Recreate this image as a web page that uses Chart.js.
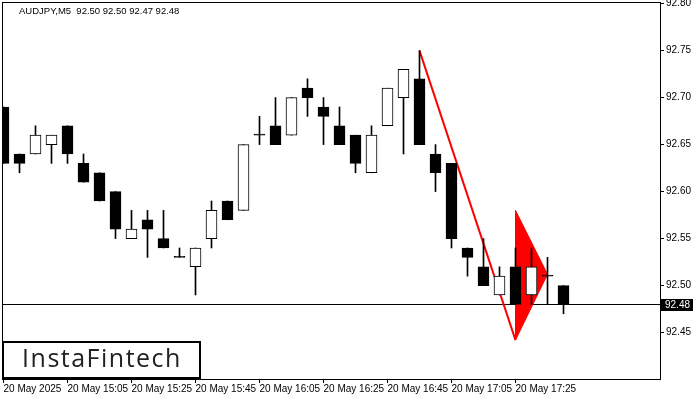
<!DOCTYPE html>
<html>
<head>
<meta charset="utf-8">
<script src="https://cdn.jsdelivr.net/npm/chart.js@4.4.1/dist/chart.umd.min.js"></script>
<style>
  html, body { margin: 0; padding: 0; background: #fff; }
  #wrap { width: 700px; height: 400px; }
</style>
</head>
<body>
<div id="wrap"><canvas id="myChart" width="700" height="400"></canvas></div>
<script>
// AUDJPY M5 candles, 14:45 .. 17:40
var OPEN  = [92.69, 92.64, 92.64, 92.65, 92.67, 92.63, 92.62, 92.60, 92.55, 92.57, 92.55, 92.53,
             92.52, 92.55, 92.59, 92.58, 92.66, 92.67, 92.66, 92.71, 92.69, 92.67, 92.66, 92.62,
             92.67, 92.70, 92.72, 92.64, 92.63, 92.54, 92.52, 92.49, 92.52, 92.49, 92.51, 92.50];
var HIGH  = [92.69, 92.64, 92.67, 92.66, 92.67, 92.64, 92.62, 92.60, 92.58, 92.58, 92.58, 92.54,
             92.54, 92.59, 92.59, 92.65, 92.68, 92.70, 92.70, 92.72, 92.70, 92.69, 92.66, 92.67,
             92.71, 92.73, 92.75, 92.65, 92.63, 92.54, 92.55, 92.52, 92.54, 92.54, 92.53, 92.50];
var LOW   = [92.63, 92.62, 92.64, 92.63, 92.63, 92.61, 92.59, 92.55, 92.55, 92.53, 92.54, 92.53,
             92.49, 92.54, 92.57, 92.58, 92.65, 92.65, 92.66, 92.68, 92.65, 92.65, 92.62, 92.62,
             92.67, 92.64, 92.65, 92.60, 92.54, 92.51, 92.50, 92.49, 92.48, 92.48, 92.48, 92.47];
var CLOSE = [92.63, 92.63, 92.66, 92.66, 92.64, 92.61, 92.59, 92.56, 92.56, 92.56, 92.54, 92.53,
             92.54, 92.58, 92.57, 92.65, 92.66, 92.65, 92.70, 92.70, 92.68, 92.65, 92.63, 92.66,
             92.71, 92.73, 92.65, 92.62, 92.55, 92.53, 92.50, 92.51, 92.48, 92.52, 92.51, 92.48];

var TIME_TICKS  = [0, 4, 8, 12, 16, 20, 24, 28, 32];
var TIME_LABELS = ['20 May 2025', '20 May 15:05', '20 May 15:25', '20 May 15:45', '20 May 16:05',
                   '20 May 16:25', '20 May 16:45', '20 May 17:05', '20 May 17:25'];
var PRICE_TICKS = [92.45, 92.50, 92.55, 92.60, 92.65, 92.70, 92.75, 92.80];

// bearish pennant pattern
var POLE    = [[26, 92.75], [32, 92.442]];
var PENNANT = [[32, 92.58], [34, 92.512], [32, 92.442], [32, 92.58]];

var LAST_PRICE = 92.48;
var TITLE = 'AUDJPY,M5  92.50 92.50 92.47 92.48';

var wicks = OPEN.map(function (o, i) { return { x: i, y: [LOW[i], HIGH[i]] }; });
var bodies = OPEN.map(function (o, i) { return { x: i, y: [o, CLOSE[i]] }; });
var bodyFill = OPEN.map(function (o, i) { return CLOSE[i] > o ? '#ffffff' : '#000000'; });

function noPad(s) {
    s.paddingTop = 0; s.paddingBottom = 0; s.paddingLeft = 0; s.paddingRight = 0;
}

var frame = {
    id: 'frame',
    beforeDatasetsDraw: function (chart) {
        var c = chart.ctx, a = chart.chartArea, y = chart.scales.y;
        var py = Math.round(y.getPixelForValue(LAST_PRICE)) + 0.5;
        c.save();
        c.strokeStyle = '#000';
        c.lineWidth = 1;
        c.beginPath();
        c.moveTo(a.left, py);
        c.lineTo(a.right, py);
        c.stroke();
        c.restore();
    },
    afterDraw: function (chart) {
        var c = chart.ctx, a = chart.chartArea, y = chart.scales.y;
        c.save();
        // outer frame
        c.strokeStyle = '#000';
        c.lineWidth = 1;
        c.strokeRect(a.left + 0.5, a.top + 0.5, a.right - a.left, a.bottom - a.top);
        // title
        c.fillStyle = '#000';
        c.font = '9.5px "Liberation Sans", Arial, sans-serif';
        c.textBaseline = 'middle';
        c.textAlign = 'left';
        c.fillText(TITLE, 19, 11);
        // last price tag
        var py = Math.round(y.getPixelForValue(LAST_PRICE));
        c.fillStyle = '#000';
        c.fillRect(a.right + 1, py - 5, 32, 12);
        c.fillStyle = '#fff';
        c.font = '10px "Liberation Sans", Arial, sans-serif';
        c.fillText(LAST_PRICE.toFixed(2), a.right + 5, py + 1);
        // logo box
        c.fillStyle = '#fff';
        c.fillRect(3, 342, 197, 36);
        c.strokeStyle = '#000';
        c.lineWidth = 2;
        c.strokeRect(3, 342, 197, 36);
        c.fillStyle = '#222';
        c.font = '500 25px "Open Sans", sans-serif';
        c.letterSpacing = '1.5px';
        c.textAlign = 'center';
        c.fillText('InstaFintech', 102, 360);
        c.restore();
    }
};

var ctx = document.getElementById('myChart').getContext('2d');
var myChart = new Chart(ctx, {
    type: 'bar',
    data: {
        datasets: [
            {
                type: 'line',
                data: PENNANT.map(function (p) { return { x: p[0], y: p[1] }; }),
                borderColor: '#ff0000',
                backgroundColor: '#ff0000',
                borderWidth: 1,
                fill: 'shape',
                pointRadius: 0,
                tension: 0,
                order: 5
            },
            {
                type: 'line',
                data: POLE.map(function (p) { return { x: p[0], y: p[1] }; }),
                borderColor: '#ff0000',
                borderWidth: 2,
                fill: false,
                pointRadius: 0,
                order: 4
            },
            {
                data: wicks,
                backgroundColor: '#000',
                barThickness: 1,
                grouped: false,
                order: 3
            },
            {
                data: bodies,
                backgroundColor: bodyFill,
                borderColor: '#000',
                borderWidth: 1,
                borderSkipped: false,
                barThickness: 11,
                minBarLength: 1,
                grouped: false,
                order: 1
            }
        ]
    },
    options: {
        responsive: false,
        animation: false,
        layout: { padding: { left: 2, top: 2, right: 0, bottom: 0 } },
        plugins: {
            legend: { display: false },
            tooltip: { enabled: false }
        },
        scales: {
            x: {
                type: 'linear',
                offset: false,
                bounds: 'ticks',
                min: -0.09375,
                max: 41.03125,
                afterFit: function (s) { s.height = 21; noPad(s); },
                afterBuildTicks: function (s) {
                    s.ticks = TIME_TICKS.map(function (v) { return { value: v }; });
                },
                grid: { drawOnChartArea: false, offset: false, color: '#000', tickLength: 4 },
                border: { color: '#000', width: 1 },
                ticks: {
                    autoSkip: false,
                    maxRotation: 0,
                    align: 'start',
                    padding: 0,
                    color: '#000',
                    font: { family: '"Liberation Sans", Arial, sans-serif', size: 10 },
                    callback: function (v) {
                        var k = TIME_TICKS.indexOf(v);
                        return k >= 0 ? TIME_LABELS[k] : '';
                    }
                }
            },
            y: {
                position: 'right',
                min: 92.4006,
                max: 92.8017,
                afterFit: function (s) { s.width = 40; noPad(s); },
                afterBuildTicks: function (s) {
                    s.ticks = PRICE_TICKS.map(function (v) { return { value: v }; });
                },
                grid: { drawOnChartArea: false, color: '#000', tickLength: 4 },
                border: { color: '#000', width: 1 },
                ticks: {
                    padding: 2,
                    color: '#000',
                    font: { family: '"Liberation Sans", Arial, sans-serif', size: 10 },
                    callback: function (v) { return Number(v).toFixed(2); }
                }
            }
        }
    },
    plugins: [frame]
});
</script>
</body>
</html>
